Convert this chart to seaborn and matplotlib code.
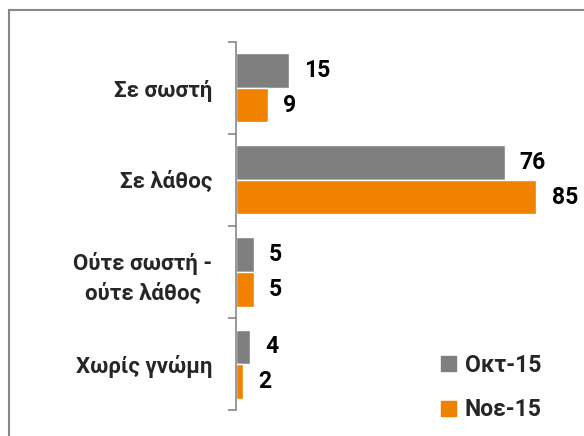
import seaborn as sns
import matplotlib.pyplot as plt
import matplotlib.patches as mpatches
import pandas as pd

categories = ["Σε σωστή", "Σε λάθος", "Ούτε σωστή -\nούτε λάθος", "Χωρίς γνώμη"]
periods = ["Οκτ-15", "Νοε-15"]
oct_values = [15, 76, 5, 4]
nov_values = [9, 85, 5, 2]

colors = ["#7F7F7F", "#F08200"]

df = pd.DataFrame({
    "category": categories * 2,
    "period": [periods[0]] * 4 + [periods[1]] * 4,
    "value": oct_values + nov_values,
})

sns.set_style("white")
plt.rcParams["font.family"] = ["Roboto", "DejaVu Sans"]
plt.rcParams["font.weight"] = "bold"

fig = plt.figure(figsize=(5.84, 4.36), dpi=100)
ax = fig.add_axes([236 / 584, 1 - 410 / 436, 318 / 584, 368 / 436])

sns.barplot(data=df, y="category", x="value", hue="period", orient="h",
            palette=colors, width=0.75, saturation=1, ax=ax, legend=False)

for cont in ax.containers:
    ax.bar_label(cont, padding=11, fontsize=16.5, fontweight="bold", color="black")

ax.set_xlim(0, 90)
ax.set_ylim(3.5, -0.5)
ax.set_xlabel("")
ax.set_ylabel("")
ax.set_xticks([])
ax.set_yticks(range(len(categories)))
ax.set_yticklabels(categories, fontsize=16, fontweight="bold", multialignment="center")
for lbl in ax.get_yticklabels():
    lbl.set_linespacing(1.45)
ax.set_yticks([-0.5, 0.5, 1.5, 2.5, 3.5], minor=True)
ax.tick_params(axis="y", which="major", length=0, pad=17)
ax.tick_params(axis="y", which="minor", length=6, width=1.2, color="#888888", left=True, direction="out")

for side in ["top", "right", "bottom"]:
    ax.spines[side].set_visible(False)
ax.spines["left"].set_color("#888888")
ax.spines["left"].set_linewidth(1.2)

handles = [mpatches.Patch(color=c, label=p) for c, p in zip(colors, periods)]
fig.legend(handles=handles, loc="upper left", bbox_to_anchor=(420 / 584, 1 - 333 / 436),
           frameon=False, handlelength=0.65, handleheight=0.65,
           handletextpad=0.4, labelspacing=0.95, prop={"weight": "bold", "size": 16.5})

border = mpatches.Rectangle((9 / 584, -0.1), 1.2, 1 - 10 / 436 + 0.1, transform=fig.transFigure,
                            fill=False, edgecolor="#888888", linewidth=1.5)
fig.patches.append(border)

fig.savefig("out.png", dpi=100)
